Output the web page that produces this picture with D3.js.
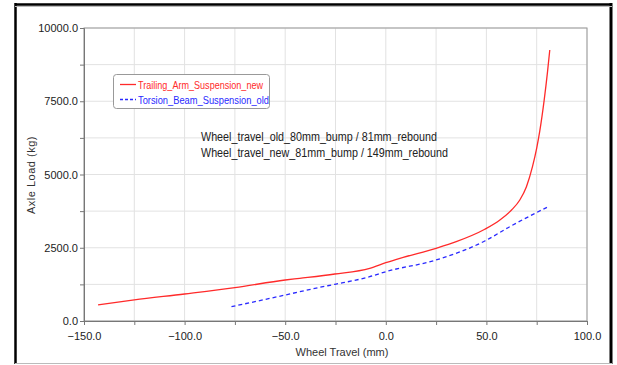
<!DOCTYPE html>
<html><head><meta charset="utf-8">
<script src="https://cdn.jsdelivr.net/npm/d3@7"></script>
<style>body{margin:0;background:#fff}svg{display:block}text{font-family:"Liberation Sans",Arial,sans-serif}</style>
</head><body><svg id="c" width="617" height="365"></svg>
<script>
const redX = [-143, -125, -100, -75, -50, -42.8, -25.3, -8, 0, 7, 25, 35, 49.2, 56.7, 62.5, 66.6, 69.9, 72.9, 75.0, 76.5, 78.7, 80.4, 81.5];
const redY = [550, 720, 921, 1137, 1400, 1457, 1604, 1799, 1990, 2140, 2481, 2707, 3130, 3447, 3788, 4130, 4584, 5266, 5900, 6470, 7530, 8520, 9249];
const blueX = [-76.7, -50, -32.8, -25.3, -8, 0, 25, 49.2, 61.6, 80.7];
const blueY = [488, 887, 1150, 1252, 1512, 1683, 2082, 2730, 3218, 3901];
const xTicks = [-150, -100, -50, 0, 50, 100];
const yTicks = [0, 2500, 5000, 7500, 10000];
const xMinor = [-125, -75, -25, 25, 75];
const yMinor = [1250, 3750, 6250, 8750];
const seriesNames = ["Trailing_Arm_Suspension_new", "Torsion_Beam_Suspension_old"];
const notes = ["Wheel_travel_old_80mm_bump / 81mm_rebound", "Wheel_travel_new_81mm_bump / 149mm_rebound"];

const svg = d3.select("#c");
const L = 84, R = 587, T = 28, B = 321;
const x = d3.scaleLinear().domain([-150, 100]).range([L, R]);
const y = d3.scaleLinear().domain([0, 10000]).range([B, T]);

// outer frame
svg.append("line").attr("x1",15).attr("x2",612).attr("y1",4.5).attr("y2",4.5).attr("stroke","#000").attr("stroke-width",2.5);
svg.append("line").attr("x1",15.5).attr("x2",15.5).attr("y1",3).attr("y2",364).attr("stroke","#000").attr("stroke-width",2.5);
svg.append("line").attr("x1",611).attr("x2",611).attr("y1",3).attr("y2",364).attr("stroke","#000").attr("stroke-width",3);
svg.append("line").attr("x1",15).attr("x2",612).attr("y1",6.5).attr("y2",6.5).attr("stroke","#bbb").attr("stroke-width",1);
svg.append("line").attr("x1",15).attr("x2",612).attr("y1",363.5).attr("y2",363.5).attr("stroke","#bbb").attr("stroke-width",1);

// grid
const g = svg.append("g");
xTicks.concat(xMinor).forEach(v => g.append("line").attr("x1",x(v)).attr("x2",x(v)).attr("y1",T).attr("y2",B).attr("stroke","#e2e2e2"));
yTicks.concat(yMinor).forEach(v => g.append("line").attr("x1",L).attr("x2",R).attr("y1",y(v)).attr("y2",y(v)).attr("stroke","#e2e2e2"));
svg.append("rect").attr("x",L).attr("y",T).attr("width",R-L).attr("height",B-T).attr("fill","none").attr("stroke","#999");

// axes
const xa = svg.append("g").attr("transform",`translate(0,${B})`)
  .call(d3.axisBottom(x).tickValues(xTicks.concat(xMinor)).tickSize(4).tickFormat(d => xTicks.includes(d) ? d3.format(".1f")(d) : ""));
const ya = svg.append("g").attr("transform",`translate(${L},0)`)
  .call(d3.axisLeft(y).tickValues(yTicks.concat(yMinor)).tickSize(4).tickFormat(d => yTicks.includes(d) ? d3.format(".1f")(d) : ""));
[xa, ya].forEach(a => {
  a.select(".domain").attr("stroke","#777");
  a.selectAll(".tick line").attr("stroke","#777");
  a.selectAll("text").attr("fill","#222").style("font-size","11px").style("font-family","Liberation Sans, Arial, sans-serif");
});
xa.selectAll("text").attr("dy","1.1em");
ya.selectAll("text").attr("x",-6);

svg.append("text").attr("x",342).attr("y",356).attr("text-anchor","middle").attr("fill","#333").style("font-size","11px").text("Wheel Travel (mm)");
svg.append("text").attr("transform","translate(35,175) rotate(-90)").attr("text-anchor","middle").attr("fill","#333").style("font-size","11px").style("letter-spacing","0.5px").text("Axle Load (kg)");

// lines
const line = d3.line().x(d => x(d[0])).y(d => y(d[1])).curve(d3.curveMonotoneX);
svg.append("path").datum(redX.map((v,i)=>[v,redY[i]])).attr("d",line).attr("fill","none").attr("stroke","#ff2a2a").attr("stroke-width",1.3);
svg.append("path").datum(blueX.map((v,i)=>[v,blueY[i]])).attr("d",line).attr("fill","none").attr("stroke","#2a2aff").attr("stroke-width",1.3).attr("stroke-dasharray","4,3");

// legend
const lg = svg.append("g");
lg.append("rect").attr("x",113.5).attr("y",74.5).attr("width",156).attr("height",34).attr("rx",3).attr("fill","#fff").attr("stroke","#999");
const cols = ["#ff2a2a", "#2a2aff"];
seriesNames.forEach((n,i) => {
  const yy = 84.5 + i*15;
  lg.append("line").attr("x1",120).attr("x2",136).attr("y1",yy).attr("y2",yy).attr("stroke",cols[i]).attr("stroke-width",1.3).attr("stroke-dasharray", i ? "3,2" : null);
  lg.append("text").attr("x",138).attr("y",yy+4).attr("fill",cols[i]).style("font-size","11px").attr("textLength", i ? 131 : 125).attr("lengthAdjust","spacingAndGlyphs").text(n);
});

// notes
notes.forEach((n,i) => {
  svg.append("text").attr("x",201).attr("y",141 + i*16).attr("fill","#222").style("font-size","12.5px")
    .attr("textLength", i ? 247 : 236).attr("lengthAdjust","spacingAndGlyphs").text(n);
});
</script></body></html>
